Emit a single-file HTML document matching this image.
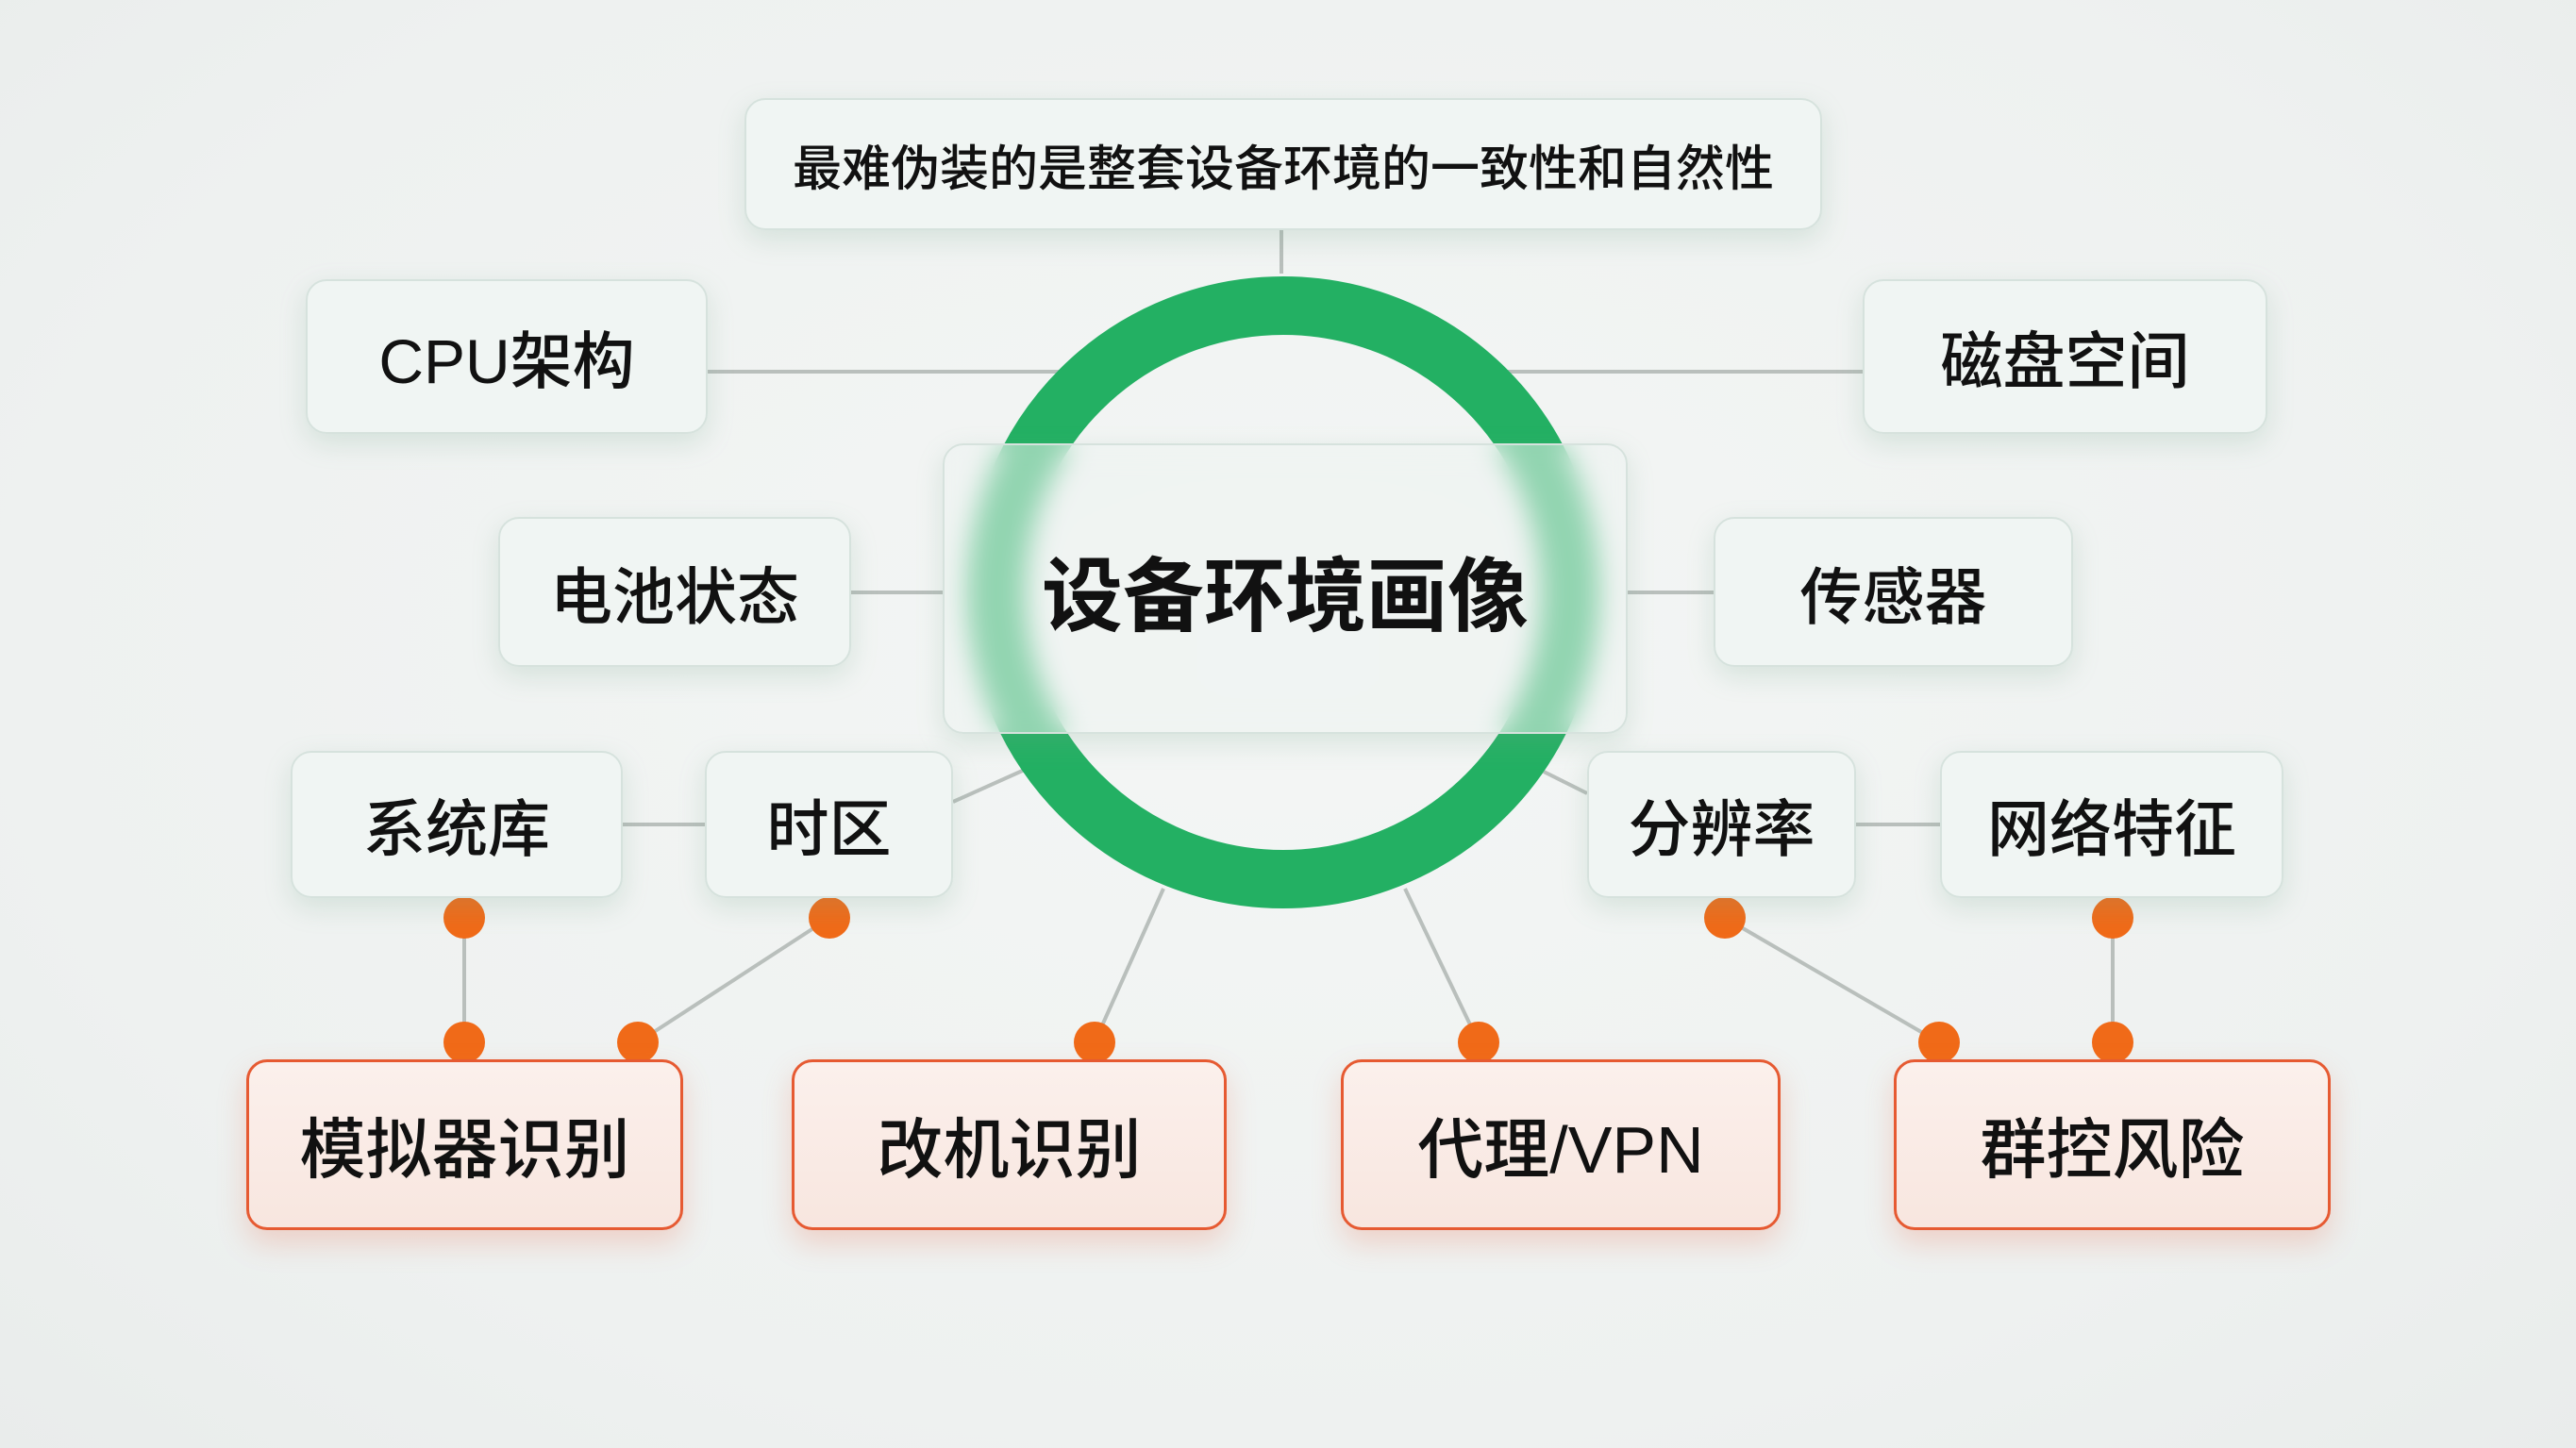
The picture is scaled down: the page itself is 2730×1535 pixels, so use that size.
<!DOCTYPE html>
<html><head><meta charset="utf-8"><style>
html,body{margin:0;padding:0}
body{width:2730px;height:1535px;position:relative;overflow:hidden;background:radial-gradient(ellipse at 50% 45%,#f4f6f5 0%,#eef1f0 70%,#e9eceb 100%);font-family:"Liberation Sans","Noto Sans CJK SC",sans-serif;}
svg{position:absolute;left:0;top:0}
.b{position:absolute;box-sizing:border-box;display:flex;align-items:center;justify-content:center;color:#111;font-weight:500;border:2px solid #d6e2dd;border-radius:22px;background:rgba(240,245,243,0.9);box-shadow:0 10px 28px rgba(120,170,140,0.22);}
.o{border:3px solid #e65a32;background:linear-gradient(#fbf0ec,#f8e6df);box-shadow:0 14px 30px rgba(235,110,80,0.25);font-size:70px;}
.s{font-size:66px}
</style></head><body>
<svg width="2730" height="1535">
<g stroke="#b9bfbc" stroke-width="4" fill="none">
<line x1="1358" y1="244" x2="1358" y2="290"/>
<line x1="750" y1="394" x2="1125" y2="394"/>
<line x1="1598" y1="394" x2="1974" y2="394"/>
<line x1="902" y1="628" x2="999" y2="628"/>
<line x1="1725" y1="628" x2="1816" y2="628"/>
<line x1="660" y1="874" x2="747" y2="874"/>
<line x1="1967" y1="874" x2="2056" y2="874"/>
<line x1="1010" y1="850" x2="1088" y2="815"/>
<line x1="1636" y1="818" x2="1682" y2="841"/>
<line x1="492" y1="973" x2="492" y2="1105"/>
<line x1="879" y1="973" x2="676" y2="1105"/>
<line x1="1233" y1="942" x2="1160" y2="1105"/>
<line x1="1489" y1="942" x2="1567" y2="1105"/>
<line x1="1828" y1="973" x2="2055" y2="1105"/>
<line x1="2239" y1="973" x2="2239" y2="1105"/>
</g>
<circle cx="1360" cy="628" r="304" fill="none" stroke="#23b063" stroke-width="62"/>
<g fill="#f06a18">
<circle cx="492" cy="973" r="22"/><circle cx="879" cy="973" r="22"/><circle cx="1828" cy="973" r="22"/><circle cx="2239" cy="973" r="22"/>
<circle cx="492" cy="1105" r="22"/><circle cx="676" cy="1105" r="22"/><circle cx="1160" cy="1105" r="22"/><circle cx="1567" cy="1105" r="22"/><circle cx="2055" cy="1105" r="22"/><circle cx="2239" cy="1105" r="22"/>
</g>
</svg>
<div class="b" style="left:789px;top:104px;width:1142px;height:140px;font-size:52px">最难伪装的是整套设备环境的一致性和自然性</div>
<div class="b s" style="left:324px;top:296px;width:426px;height:164px">CPU架构</div>
<div class="b s" style="left:1974px;top:296px;width:429px;height:164px">磁盘空间</div>
<div class="b" style="left:999px;top:470px;width:726px;height:308px;font-size:86px;font-weight:700;background:rgba(236,243,240,0.55);backdrop-filter:blur(14px);-webkit-backdrop-filter:blur(14px);">设备环境画像</div>
<div class="b s" style="left:528px;top:548px;width:374px;height:159px">电池状态</div>
<div class="b s" style="left:1816px;top:548px;width:381px;height:159px">传感器</div>
<div class="b s" style="left:308px;top:796px;width:352px;height:156px">系统库</div>
<div class="b s" style="left:747px;top:796px;width:263px;height:156px">时区</div>
<div class="b s" style="left:1682px;top:796px;width:285px;height:156px">分辨率</div>
<div class="b s" style="left:2056px;top:796px;width:364px;height:156px">网络特征</div>
<div class="b o" style="left:261px;top:1123px;width:463px;height:181px">模拟器识别</div>
<div class="b o" style="left:839px;top:1123px;width:461px;height:181px">改机识别</div>
<div class="b o" style="left:1421px;top:1123px;width:466px;height:181px">代理/VPN</div>
<div class="b o" style="left:2007px;top:1123px;width:463px;height:181px">群控风险</div>
</body></html>
